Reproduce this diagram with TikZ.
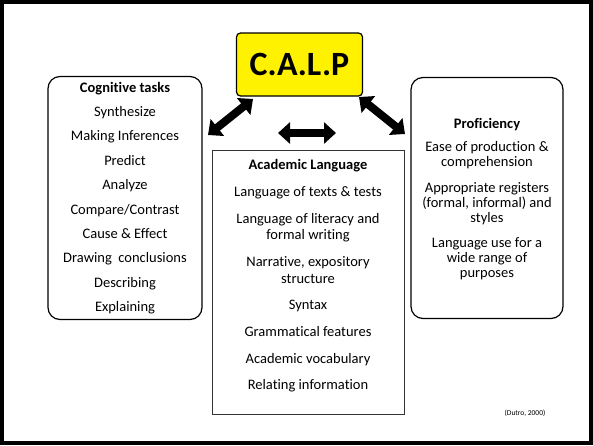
\documentclass[tikz,border=0pt]{standalone}
\usepackage{fontspec}
\setmainfont{Carlito}[Ligatures=NoCommon]
\usetikzlibrary{arrows.meta,positioning}

\begin{document}
\begin{tikzpicture}[x=1pt,y=-1pt,
		roundbox/.style = {
			rectangle,draw=black,line width=1.2pt,rounded corners=12pt,
			inner sep=0pt
		},
		squarebox/.style = {
			rectangle,draw=black!80,line width=0.8pt,inner sep=0pt
		},
		boxtext/.style = {align=center,font=\fontsize{14.5}{15}\selectfont},
		bigarrow/.style = {
			line width=8pt,
			{Triangle[width=21pt,length=12pt]}-{Triangle[width=21pt,length=12pt]}
		}]
		\useasboundingbox (0,0) rectangle (593,445);
		\draw[line width=4.5pt] (2,2) rectangle (591,443);
		% top box
		\node[rectangle,draw=black,line width=1.2pt,rounded corners=4pt,fill=yellow,
			minimum width=126pt,minimum height=63pt,
			font=\fontsize{34}{40}\selectfont\bfseries] (calp) at (299.5,64.5) {C.A.L.P};
		% three boxes
		\node[roundbox,minimum width=154pt,minimum height=243pt] (cog) at (125,198) {};
		\node[boxtext,font=\fontsize{14.5}{24.4}\selectfont] (cogtxt) at (cog.center) {%
			\textbf{Cognitive tasks}\\ Synthesize\\ Making Inferences\\ Predict\\ Analyze\\
			Compare/Contrast\\ Cause \& Effect\\ Drawing\ \ conclusions\\ Describing\\ Explaining};
		\node[squarebox,minimum width=192pt,minimum height=264pt] (acad) at (308,282) {};
		\node[boxtext,font=\fontsize{14.5}{16.5}\selectfont,anchor=north] (acadtxt) at ([yshift=-6pt]acad.north) {%
			\textbf{Academic Language}\\[10.5pt]
			Language of texts \& tests\\[10.5pt]
			Language of literacy and\\ formal writing\\[10.5pt]
			Narrative, expository\\ structure\\[10pt]
			Syntax\\[10.5pt]
			Grammatical features\\[10pt]
			Academic vocabulary\\[10pt]
			Relating information};
		\node[roundbox,minimum width=152pt,minimum height=241pt] (prof) at (487,198) {};
		\node[boxtext] (proftxt) at ([yshift=-1pt]prof.center) {%
			\textbf{Proficiency}\\[8.5pt]
			Ease of production \&\\ comprehension\\[10.5pt]
			Appropriate registers\\ (formal, informal) and\\ styles\\[10.5pt]
			Language use for a\\ wide range of\\ purposes};
		% arrow ends
		\coordinate (l1) at (208,135);
		\coordinate (l2) at (253,99);
		\coordinate (m1) at (278,133);
		\coordinate (m2) at (336,133);
		\coordinate (r1) at (359,97);
		\coordinate (r2) at (405,134);
		\draw[bigarrow] (l1) -- (l2);
		\draw[bigarrow] (m1) -- (m2);
		\draw[bigarrow] (r1) -- (r2);
		\node[font=\fontsize{7.5}{8}\selectfont] (cite) at (525,413) {(Dutro, 2000)};
\end{tikzpicture}
\end{document}
